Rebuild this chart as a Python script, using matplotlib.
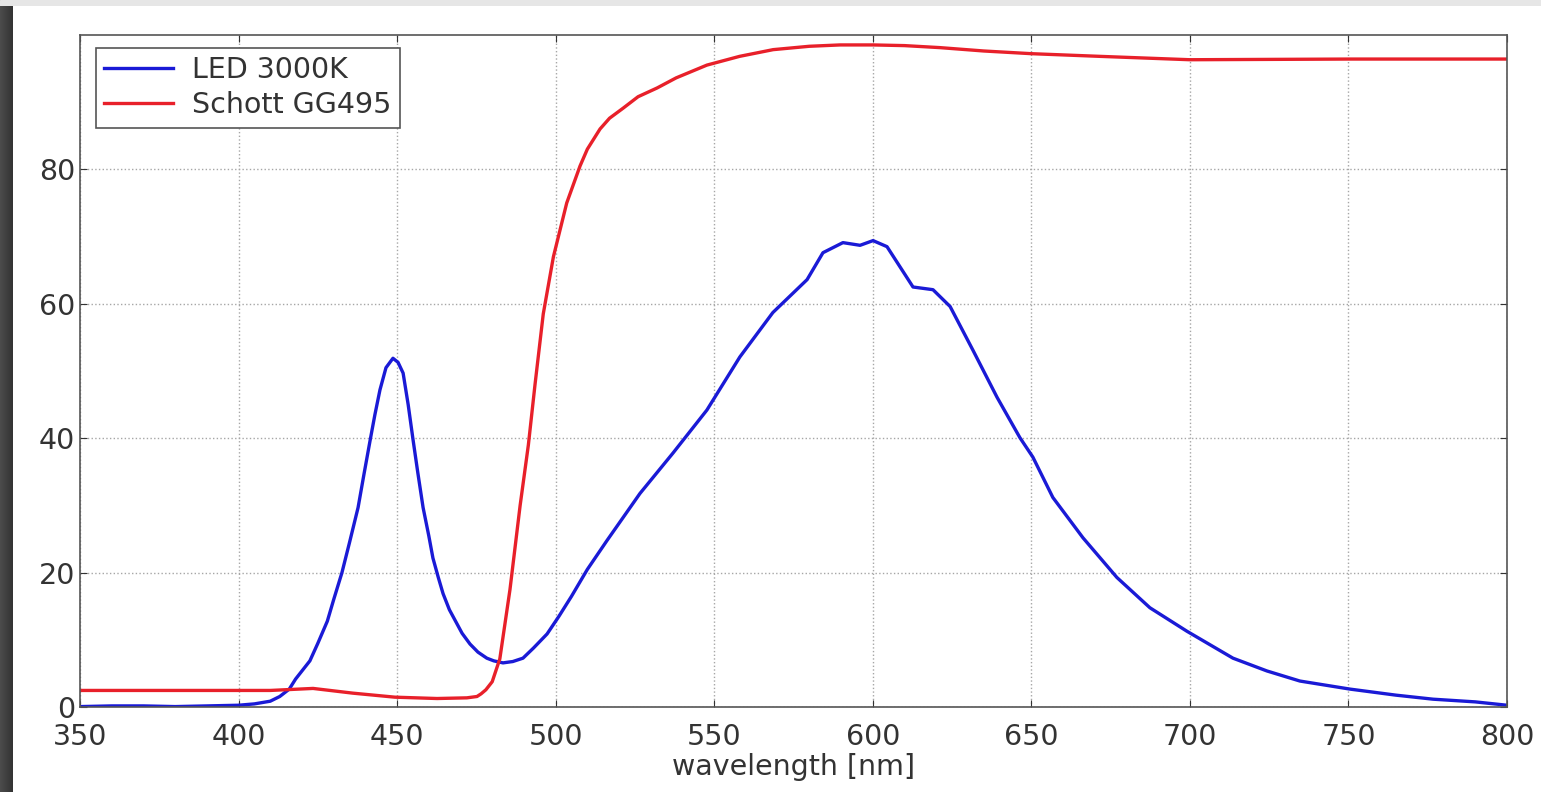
import numpy as np
import matplotlib
matplotlib.use("Agg")
import matplotlib.pyplot as plt

# LED 3000K spectrum
led_nm = [350, 360, 370, 380, 390, 400, 405, 410, 413, 416, 418, 422.5, 425, 428, 430,
          432.6, 435, 437.7, 439.5, 441.5, 443, 444.6, 446.5, 448.7, 450.3, 451.9,
          453.5, 455, 456.5, 458.2, 460, 461.3, 463, 464.5, 466.5, 468.9, 470.5, 473,
          475.5, 478.3, 480.5, 483.4, 486.5, 489.7, 493, 497.3, 501, 505, 510, 516.2,
          526.6, 537, 547.7, 558.1, 568.5, 579.3, 584.3, 590.6, 596, 600.1, 604.5,
          608.6, 612.7, 619, 624.4, 631.6, 639.2, 646.4, 650.5, 656.8, 666.3, 677,
          687.4, 699.1, 713.6, 724.3, 734.7, 750.5, 765, 776.7, 790, 800]
led_val = [0.1, 0.2, 0.2, 0.1, 0.2, 0.3, 0.5, 0.9, 1.6, 2.7, 4.2, 6.9, 9.5, 12.8, 16,
           20, 24.5, 29.7, 34.5, 39.7, 43.5, 47.2, 50.5, 51.9, 51.3, 49.7,
           45, 39.9, 35, 29.7, 25.5, 22.2, 19.3, 16.9, 14.5, 12.4, 11, 9.4,
           8.2, 7.3, 6.9, 6.6, 6.8, 7.3, 8.8, 10.9, 13.5, 16.5, 20.5, 24.8,
           31.8, 37.8, 44.2, 52.1, 58.7, 63.6, 67.6, 69.1, 68.7, 69.4, 68.5,
           65.5, 62.5, 62.1, 59.6, 53.1, 46.1, 40.1, 37.2, 31.2, 25.2, 19.3,
           14.8, 11.3, 7.3, 5.4, 3.9, 2.7, 1.8, 1.2, 0.8, 0.3]

# Schott GG495 transmission
gg_nm = [350, 380, 410, 423.5, 436, 449.3, 462.6, 472, 475.2, 476.5, 478, 480,
         482.4, 485.6, 488.8, 491.4, 493.5, 496.1, 499.3, 503.5, 507.7, 510, 514,
         517, 521.3, 526, 532, 538, 547.7, 558, 568.6, 580, 589.7, 600.1, 610,
         621.2, 635, 650, 671.7, 700, 750.5, 800]
gg_val = [2.5, 2.5, 2.5, 2.8, 2.1, 1.5, 1.3, 1.4, 1.6, 2.0, 2.6, 3.8,
          7.2, 17.5, 30, 39, 48, 58.5, 67, 75, 80.5, 83, 86,
          87.6, 89.1, 90.8, 92.1, 93.6, 95.5, 96.8, 97.8, 98.3, 98.5, 98.5, 98.4,
          98.1, 97.6, 97.2, 96.8, 96.3, 96.4, 96.4]

fig = plt.figure(figsize=(15.41, 7.92), dpi=100)
fig.patch.set_facecolor('white')

# dark frame edge on the left, light strip on top
edge = fig.add_axes([0, 0, 0.008, 1])
edge.imshow(np.linspace(0.3, 0.2, 50).reshape(1, -1), cmap='gray', aspect='auto',
            vmin=0, vmax=1)
edge.axis('off')
top = fig.add_axes([0, 0.993, 1, 0.007])
top.axis('off')
top.add_patch(plt.Rectangle((0, 0), 1, 1, color='#e6e6e6', transform=top.transAxes))

ax = fig.add_axes([0.0519, 0.107, 0.926, 0.849])
ax.plot(led_nm, led_val, color='#1a1ad6', lw=2.4, label='LED 3000K')
ax.plot(gg_nm, gg_val, color='#e8202a', lw=2.4, label='Schott GG495')

ax.set_xlim(350, 800)
ax.set_ylim(0, 100)
ax.set_xticks(range(350, 801, 50))
ax.set_yticks([0, 20, 40, 60, 80])
ax.grid(True, color='0.65', ls=':', lw=1)
ax.tick_params(direction='in', labelsize=20.5, colors='#333333', length=5,
               top=True, right=True)
ax.tick_params(axis='x', pad=11)
for s in ax.spines.values():
    s.set_color('#555555')
    s.set_linewidth(1.2)
ax.set_xlabel('wavelength [nm]', fontsize=20.5, color='#333333', labelpad=2)

leg = ax.legend(loc='upper left', fontsize=20.5, fancybox=False, framealpha=1,
                edgecolor='#555555', handlelength=2.4, handletextpad=0.7,
                borderpad=0.3, labelspacing=0.25, borderaxespad=0,
                bbox_to_anchor=(0.011, 0.981))
leg.get_frame().set_linewidth(1.2)
for t in leg.get_texts():
    t.set_color('#333333')

plt.savefig('out.png', dpi=100)
